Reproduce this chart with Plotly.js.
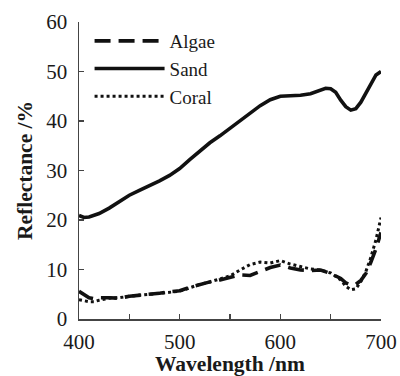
<!DOCTYPE html>
<html><head><meta charset="utf-8">
<script src="https://cdn.plot.ly/plotly-3.0.1.min.js"></script>
<style>html,body{margin:0;padding:0;background:#fff;}#chart{width:400px;height:376px;}</style>
</head><body><div id="chart"></div>
<script>
const sandX = [400,405,410,420,430,440,450,460,470,480,490,500,510,520,530,540,550,560,570,580,590,600,610,620,630,640,645,650,655,660,665,670,675,680,685,690,695,700];
const sandY = [20.9,20.5,20.6,21.3,22.4,23.8,25.0,26.0,26.9,27.9,29.0,30.4,32.2,34.0,35.6,37.0,38.5,40.2,41.7,43.1,44.3,45.0,45.1,45.2,45.5,46.2,46.6,46.5,45.8,44.2,42.9,42.2,42.5,43.8,45.6,47.5,49.3,50.0];
const algaeX = [400,405,410,415,420,430,440,450,460,470,480,490,500,510,520,530,540,550,560,570,580,590,600,610,620,630,640,650,660,665,670,675,680,685,690,695,700];
const algaeY = [5.6,5.0,4.3,4.1,4.3,4.3,4.2,4.6,4.8,4.9,5.2,5.5,5.7,6.4,7.0,7.5,7.9,8.4,8.9,8.8,9.6,10.4,10.9,10.3,9.9,9.8,9.9,9.2,8.2,7.3,6.9,7.0,7.8,9.2,11.5,14.2,17.5];
const coralX = [400,405,410,415,420,430,440,450,460,470,480,490,500,510,520,530,540,550,560,570,580,590,600,610,620,630,640,650,660,665,670,675,680,685,690,695,700];
const coralY = [3.9,3.7,3.5,3.5,3.8,4.2,4.3,4.6,4.8,4.9,5.2,5.4,5.6,6.3,7.0,7.5,8.1,8.7,9.9,11.0,11.5,11.3,11.8,11.1,10.6,10.1,9.9,9.3,7.9,6.6,5.9,6.1,7.6,9.6,12.5,16.0,20.5];
const xTicks = [400,450,500,550,600,650,700];
const xTickText = ['400','','500','','600','','700'];
const yTicks = [0,10,20,30,40,50,60];

const font = {family:'"Liberation Serif", "Times New Roman", serif', color:'#1a1a1a'};
const traces = [
  {x:algaeX, y:algaeY, name:'Algae', mode:'lines', line:{color:'#111', width:3.6, dash:'16px,8px'}},
  {x:sandX, y:sandY, name:'Sand', mode:'lines', line:{color:'#111', width:3.6}},
  {x:coralX, y:coralY, name:'Coral', mode:'lines', line:{color:'#111', width:3, dash:'3px,3px'}}
];
const layout = {
  width:400, height:376,
  margin:{l:79, r:19, t:22, b:57},
  paper_bgcolor:'#fff', plot_bgcolor:'#fff',
  font: Object.assign({size:17}, font),
  showlegend:true,
  legend:{x:0.035, y:1.0, xanchor:'left', yanchor:'top', bgcolor:'rgba(0,0,0,0)',
          font:Object.assign({size:19}, font), itemwidth:70, tracegroupgap:0},
  xaxis:{range:[400,700], tickvals:xTicks, ticktext:xTickText,
         ticks:'inside', ticklen:5, tickwidth:1.5, tickcolor:'#444', ticklabelstandoff:3,
         showline:true, linecolor:'#444', linewidth:1.5, showgrid:false, zeroline:false,
         tickfont:Object.assign({size:21}, font),
         title:{text:'<b>Wavelength /nm</b>', font:Object.assign({size:21.5}, font), standoff:8}},
  yaxis:{range:[0,60], tickvals:yTicks, ticks:'inside', ticklen:5, tickwidth:1.5, tickcolor:'#444',
         ticklabelstandoff:6,
         showline:true, linecolor:'#444', linewidth:1.5, showgrid:false, zeroline:false,
         tickfont:Object.assign({size:21}, font),
         title:{text:'<b>Reflectance /%</b>', font:Object.assign({size:21.5}, font), standoff:8}}
};
Plotly.newPlot('chart', traces, layout, {displayModeBar:false, staticPlot:true});
</script></body></html>
